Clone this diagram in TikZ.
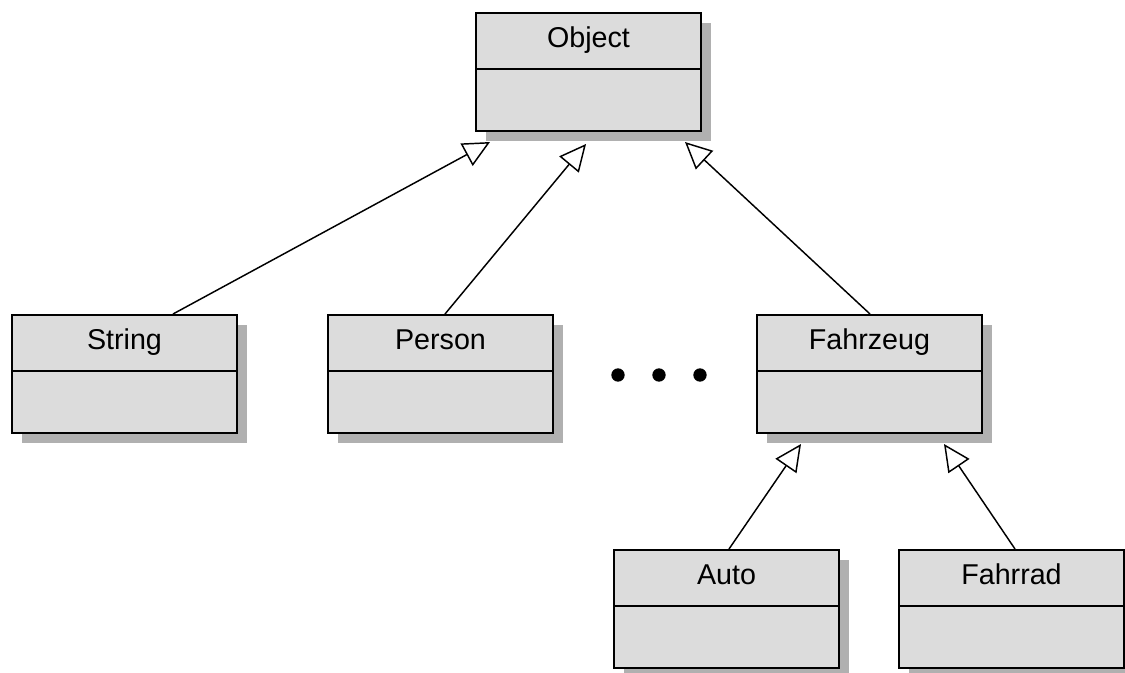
\documentclass[tikz,border=0pt]{standalone}
\usepackage{fontspec}
\setmainfont{Liberation Sans}
\usetikzlibrary{arrows.meta,calc}
\definecolor{boxfill}{RGB}{220,220,220}
\definecolor{boxshadow}{RGB}{176,176,176}

% UML class box: name, left x, top y, class name
\newcommand\umlclass[4]{%
  \fill[boxshadow] (#2+11,#3+11) rectangle ++(225,118);
  \node[classbox] (#1) at (#2,#3) {};
  \draw[line width=1.5pt] ($(#1.north west)+(0,57)$) -- ($(#1.north east)+(0,57)$);
  \node[classname] (#1-name) at ($(#1.north)+(0,35.5)$) {#4};
}

\begin{document}
\begin{tikzpicture}[x=0.75pt,y=-0.75pt,
  classbox/.style={draw=black, line width=1.5pt, fill=boxfill,
    minimum width=168.75pt, minimum height=88.5pt, inner sep=0pt,
    anchor=north west},
  classname/.style={font=\fontsize{21.5}{25}\selectfont, inner sep=0pt, anchor=base},
  gen/.style={line width=1.1pt, -{Triangle[open, length=20pt, width=19pt, line width=1.1pt]}},
  dot/.style={circle, fill=black, inner sep=0pt, minimum size=10pt}]
  \useasboundingbox (0,0) rectangle (1125,672);

  \umlclass{object}{475}{12}{Object}
  \umlclass{string}{11}{314}{String}
  \umlclass{person}{327}{314}{Person}
  \umlclass{fahrzeug}{756}{314}{Fahrzeug}
  \umlclass{auto}{613}{549}{Auto}
  \umlclass{fahrrad}{898}{549}{Fahrrad}

  % arrow tips below the superclass boxes
  \coordinate (tip-string) at (490,142);
  \coordinate (tip-person) at (586,144);
  \coordinate (tip-fahrzeug) at (685,142);
  \coordinate (tip-auto) at (801,444);
  \coordinate (tip-fahrrad) at (944,444);

  % generalisations
  \draw[gen] ($(string.north west)+(162,0)$) -- (tip-string);
  \draw[gen] ($(person.north west)+(118,0)$) -- (tip-person);
  \draw[gen] ($(fahrzeug.north west)+(114,0)$) -- (tip-fahrzeug);
  \draw[gen] ($(auto.north west)+(116,0)$) -- (tip-auto);
  \draw[gen] ($(fahrrad.north west)+(117,0)$) -- (tip-fahrrad);

  % ellipsis between the subclasses
  \node[dot] (dot1) at (618,375) {};
  \node[dot] (dot2) at (659,375) {};
  \node[dot] (dot3) at (700,375) {};
\end{tikzpicture}
\end{document}
